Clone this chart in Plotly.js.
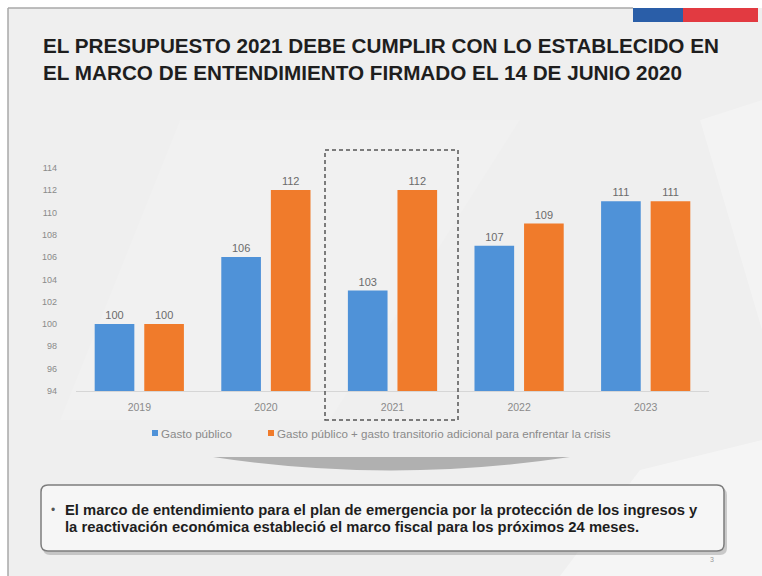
<!DOCTYPE html>
<html><head><meta charset="utf-8">
<script src="https://cdn.plot.ly/plotly-3.0.1.min.js"></script>
<style>html,body{margin:0;padding:0;background:#fff}#c{width:762px;height:576px}</style>
</head><body><div id="c"></div>
<script>
// ---- data ----
const years = ['2019', '2020', '2021', '2022', '2023'];
const gastoPublico = [100, 106, 103, 107, 111];
const gastoConTransitorio = [100, 112, 112, 109, 111];
const seriesNames = ['Gasto público', 'Gasto público + gasto transitorio adicional para enfrentar la crisis'];
const yTicks = [94, 96, 98, 100, 102, 104, 106, 108, 110, 112, 114];
const titleLines = ['EL PRESUPUESTO 2021 DEBE CUMPLIR CON LO ESTABLECIDO EN', 'EL MARCO DE ENTENDIMIENTO FIRMADO EL 14 DE JUNIO 2020'];
const noteLines = ['El marco de entendimiento para el plan de emergencia por la protección de los ingresos y', 'la reactivación económica estableció el marco fiscal para los próximos 24 meses.'];
const pageNumber = '3';

// ---- layout helpers ----
const W = 762, H = 576;
const px = x => x / W, py = y => 1 - y / H;
const P = (x, y) => px(x).toFixed(5) + ',' + py(y).toFixed(5);
function roundRect(x0, y0, x1, y1, r) {
  return 'M' + P(x0 + r, y0) + ' L' + P(x1 - r, y0) + ' Q' + P(x1, y0) + ' ' + P(x1, y0 + r) +
    ' L' + P(x1, y1 - r) + ' Q' + P(x1, y1) + ' ' + P(x1 - r, y1) +
    ' L' + P(x0 + r, y1) + ' Q' + P(x0, y1) + ' ' + P(x0, y1 - r) +
    ' L' + P(x0, y0 + r) + ' Q' + P(x0, y0) + ' ' + P(x0 + r, y0) + ' Z';
}
function rect(x0, y0, x1, y1, fill, line, lw, dash, layer) {
  return {type: 'rect', xref: 'paper', yref: 'paper', x0: px(x0), x1: px(x1), y0: py(y1), y1: py(y0),
    fillcolor: fill, line: {color: line || 'rgba(0,0,0,0)', width: lw || 0, dash: dash || 'solid'}, layer: layer || 'below'};
}
function pathShape(d, fill, line, lw, layer) {
  return {type: 'path', xref: 'paper', yref: 'paper', path: d, fillcolor: fill,
    line: {color: line || 'rgba(0,0,0,0)', width: lw || 0}, layer: layer || 'below'};
}

const blue = '#4f92d8', orange = '#f07b2b';
const FAM = 'Liberation Sans, Arial, sans-serif';
const labelFont = {family: FAM, size: 11, color: '#6b6b6b'};

const traces = [
  {type: 'bar', name: seriesNames[0], x: years, y: gastoPublico, text: gastoPublico.map(String),
   textposition: 'outside', textfont: labelFont, cliponaxis: false, marker: {color: blue}, hoverinfo: 'skip'},
  {type: 'bar', name: seriesNames[1], x: years, y: gastoConTransitorio, text: gastoConTransitorio.map(String),
   textposition: 'outside', textfont: labelFont, cliponaxis: false, marker: {color: orange}, hoverinfo: 'skip'}
];

const shapes = [
  // slide background
  rect(8, 8, 762, 576, '#efefef'),
  pathShape('M' + P(8, 8) + ' L' + P(8, 576), 'rgba(0,0,0,0)', '#a9a9a9', 1.5),
  pathShape('M' + P(8, 8) + ' L' + P(633, 8), 'rgba(0,0,0,0)', '#a9a9a9', 1.5),
  // soft white swooshes
  pathShape('M' + P(180, 120) + ' L' + P(520, 120) + ' L' + P(330, 420) + ' L' + P(60, 420) + ' Z', 'rgba(255,255,255,0.12)'),
  pathShape('M' + P(640, 470) + ' L' + P(762, 440) + ' L' + P(762, 576) + ' L' + P(560, 576) + ' Z', 'rgba(255,255,255,0.4)'),
  pathShape('M' + P(700, 120) + ' L' + P(762, 100) + ' L' + P(762, 330) + ' Z', 'rgba(255,255,255,0.25)'),
  // top-right flag bar
  rect(633, 8, 683, 22, '#2a5ea8'),
  rect(683, 8, 758, 22, '#e23a41'),
  // dashed highlight box around 2021
  rect(325, 150, 458, 420, 'rgba(0,0,0,0)', '#555555', 1.5, '4px,3px', 'above'),
  // legend squares
  rect(152, 430, 158, 436, blue, null, 0, null, 'above'),
  rect(268, 430, 274, 436, orange, null, 0, null, 'above'),
  // grey lens shape
  pathShape('M' + P(213, 457) + ' L' + P(570, 457) + ' Q' + P(390, 484) + ' ' + P(213, 457) + ' Z', '#b0b0b0'),
  // note box shadow + box
  pathShape(roundRect(43, 488, 727, 555, 7), 'rgba(120,120,120,0.35)'),
  pathShape(roundRect(41, 485, 724, 551, 7), '#f6f6f6', '#7d7d7d', 1.5)
];

const ann = [];
titleLines.forEach((t, i) => ann.push({xref: 'paper', yref: 'paper', x: px(41), y: py(45.5 + i * 26.5), xanchor: 'left', yanchor: 'middle',
  text: t, showarrow: false, font: {family: FAM, size: 20.7, weight: 700, color: '#1e1e1e'}}));
ann.push({xref: 'paper', yref: 'paper', x: px(159), y: py(433), xanchor: 'left', yanchor: 'middle', text: seriesNames[0], showarrow: false,
  font: {family: FAM, size: 11.6, color: '#8a8a8a'}});
ann.push({xref: 'paper', yref: 'paper', x: px(275), y: py(433), xanchor: 'left', yanchor: 'middle', text: seriesNames[1], showarrow: false,
  font: {family: FAM, size: 11.6, color: '#8a8a8a'}});
ann.push({xref: 'paper', yref: 'paper', x: px(49), y: py(510), xanchor: 'left', yanchor: 'middle', text: '•', showarrow: false,
  font: {family: FAM, size: 12, color: '#555'}});
noteLines.forEach((t, i) => ann.push({xref: 'paper', yref: 'paper', x: px(63), y: py(510 + i * 17), xanchor: 'left', yanchor: 'middle',
  text: t, showarrow: false, font: {family: FAM, size: 14.8, weight: 700, color: '#1e1e1e'}}));
ann.push({xref: 'paper', yref: 'paper', x: px(712), y: py(559), xanchor: 'center', yanchor: 'middle', text: pageNumber, showarrow: false,
  font: {family: FAM, size: 7, color: '#999'}});

const layout = {
  width: W, height: H,
  margin: {l: 0, r: 0, t: 0, b: 0},
  paper_bgcolor: '#ffffff', plot_bgcolor: 'rgba(0,0,0,0)',
  showlegend: false,
  barmode: 'group', bargap: 0.217, bargroupgap: 0.2,
  xaxis: {domain: [px(76), px(709)], type: 'category', showline: true, linecolor: '#d6d6d6', linewidth: 1,
    ticks: '', showgrid: false, zeroline: false, ticklabelstandoff: 6,
    tickfont: {family: FAM, size: 10.5, color: '#8a8a8a'}},
  yaxis: {domain: [py(391), py(167.7)], range: [94, 114], tickvals: yTicks, ticktext: yTicks.map(String),
    showgrid: false, zeroline: false, showline: false, ticks: '', ticklabelstandoff: 18,
    tickfont: {family: FAM, size: 9, color: '#8a8a8a'}},
  shapes: shapes,
  annotations: ann
};

Plotly.newPlot('c', traces, layout, {staticPlot: true, displayModeBar: false});
</script>
</body></html>
